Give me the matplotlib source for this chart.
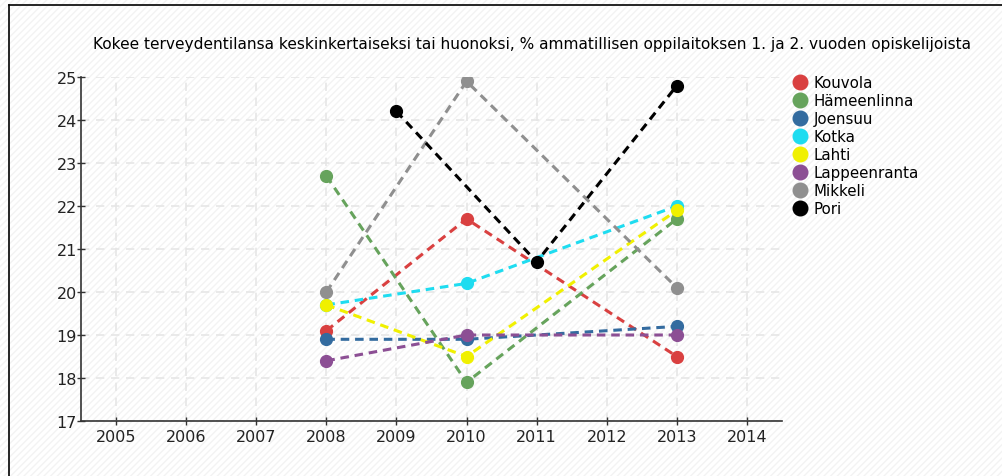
import matplotlib.pyplot as plt
from matplotlib.patches import Rectangle
from matplotlib.lines import Line2D

title = 'Kokee terveydentilansa keskinkertaiseksi tai huonoksi, % ammatillisen oppilaitoksen 1. ja 2. vuoden opiskelijoista'

cities = ['Kouvola', 'Hämeenlinna', 'Joensuu', 'Kotka', 'Lahti', 'Lappeenranta', 'Mikkeli', 'Pori']
colors = ['#d94040', '#66a35c', '#336b9f', '#1edcf0', '#f0f000', '#8c4f94', '#8f8f8f', '#000000']

years_main = [2008, 2010, 2013]
years_pori = [2009, 2011, 2013]

kouvola = [19.1, 21.7, 18.5]
hameenlinna = [22.7, 17.9, 21.7]
joensuu = [18.9, 18.9, 19.2]
kotka = [19.7, 20.2, 22.0]
lahti = [19.7, 18.5, 21.9]
lappeenranta = [18.4, 19.0, 19.0]
mikkeli = [20.0, 24.9, 20.1]
pori = [24.2, 20.7, 24.8]

series = [
    (years_main, kouvola),
    (years_main, hameenlinna),
    (years_main, joensuu),
    (years_main, kotka),
    (years_main, lahti),
    (years_main, lappeenranta),
    (years_main, mikkeli),
    (years_pori, pori),
]

fig = plt.figure(figsize=(10.02, 4.77), dpi=100)
fig.patch.set_facecolor('white')

# hatched background
bg = Rectangle((0, 0), 1, 1, transform=fig.transFigure, facecolor='white',
               edgecolor='#f3f3f3', hatch='/////', linewidth=0, zorder=-10)
fig.patches.append(bg)

# frame on left and top
fig.lines.append(Line2D([9 / 1002, 9 / 1002], [0, 1 - 6 / 477], transform=fig.transFigure,
                        color='black', linewidth=1.2))
fig.lines.append(Line2D([9 / 1002, 1], [1 - 6 / 477, 1 - 6 / 477], transform=fig.transFigure,
                        color='black', linewidth=1.2))

ax = fig.add_axes([81 / 1002, 55 / 477, 701 / 1002, 344 / 477])
ax.set_facecolor('none')

for name, color, (xs, ys) in zip(cities, colors, series):
    ax.plot(xs, ys, linestyle='--', dashes=(2.8, 1.9), linewidth=2.2, color=color,
            marker='o', markersize=8.5, label=name, zorder=3)

ax.set_xlim(2004.5, 2014.5)
ax.set_ylim(17, 25)
ax.set_xticks(range(2005, 2015))
ax.set_yticks(range(17, 26))
ax.grid(True, linestyle=(0, (5, 4)), color='#e6e6e6', linewidth=1.2)
ax.set_axisbelow(True)

for side in ['top', 'right']:
    ax.spines[side].set_visible(False)
for side in ['left', 'bottom']:
    ax.spines[side].set_color('#333333')
    ax.spines[side].set_linewidth(1.2)

ax.tick_params(direction='inout', length=6, width=1, colors='#333333', labelsize=11.5,
               labelcolor='#222222')
ax.tick_params(axis='y', pad=0)
ax.tick_params(axis='x', pad=3)

fig.text(532 / 1002, 1 - 45 / 477, title, ha='center', va='center', fontsize=11.1)

leg = ax.legend(loc='upper left', bbox_to_anchor=(794 / 1002, 1 - 76 / 477),
                bbox_transform=fig.transFigure, frameon=False, fontsize=10.8,
                handlelength=0.8, handletextpad=0.5, labelspacing=0.2,
                borderaxespad=0, borderpad=0)
for h in leg.legend_handles:
    h.set_linestyle('none')
    h.set_markersize(10.5)

fig.savefig('out.png', dpi=100)
